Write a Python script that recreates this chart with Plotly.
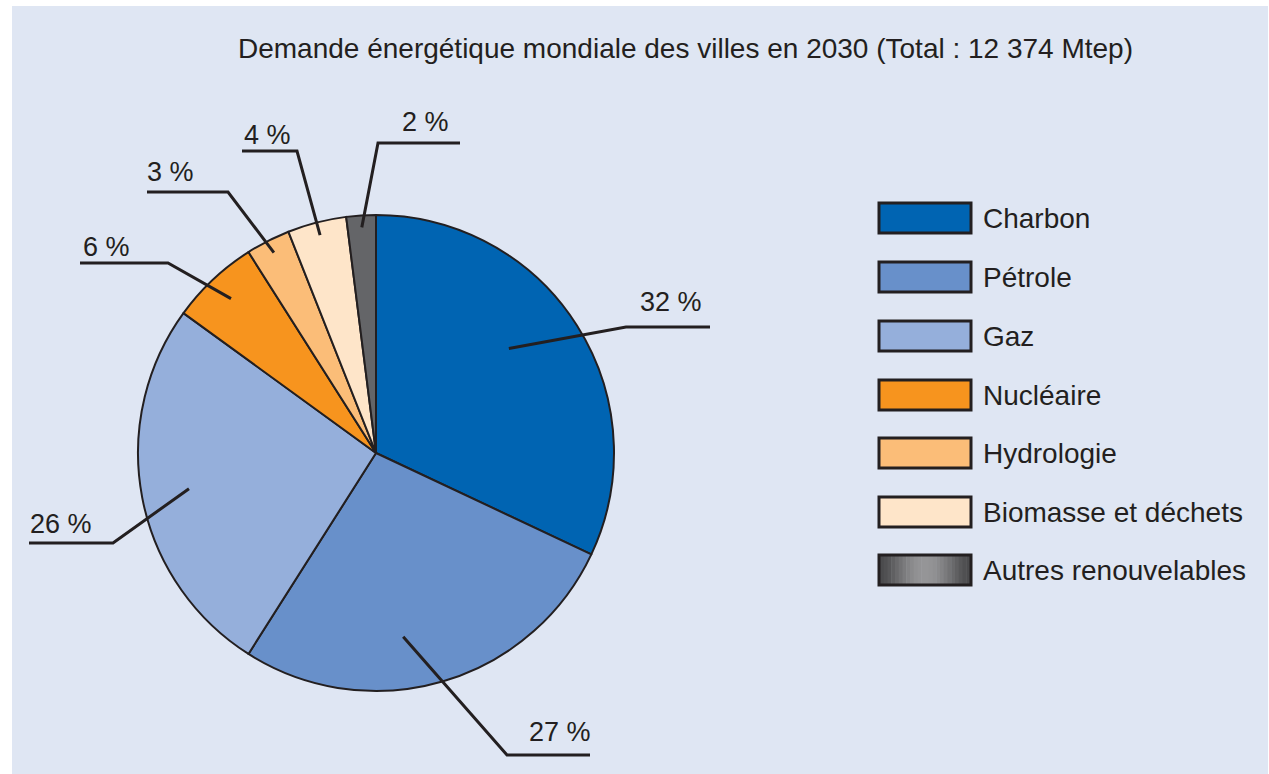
import math
import plotly.graph_objects as go

# ---- data ----
categories = ["Charbon", "Pétrole", "Gaz", "Nucléaire", "Hydrologie",
              "Biomasse et déchets", "Autres renouvelables"]
values = [32, 27, 26, 6, 3, 4, 2]
labels = ["32 %", "27 %", "26 %", "6 %", "3 %", "4 %", "2 %"]
title_text = "Demande énergétique mondiale des villes en 2030 (Total : 12 374 Mtep)"

# ---- style ----
colors = ["#0064b2", "#6890ca", "#95afdb", "#f7941e", "#fbbd78", "#fee5c9", "#646568"]
W, H = 1269, 774
BG = "#dfe6f3"
INK = "#231f20"
FONT = "Liberation Sans, Arial, sans-serif"
CX, CY, R = 376, 453, 238


def px(x):
    return x / W


def py(y):
    return 1 - y / H


fig = go.Figure()
fig.add_trace(go.Pie(
    labels=categories, values=values, sort=False, direction="clockwise",
    rotation=0, textinfo="none", hoverinfo="label+percent",
    marker=dict(colors=colors, line=dict(color=INK, width=2)),
    domain=dict(x=[px(CX - R), px(CX + R)], y=[py(CY + R), py(CY - R)]),
    showlegend=False,
))

shapes = [dict(type="rect", xref="paper", yref="paper", layer="below",
               x0=px(12), x1=px(1268), y0=0, y1=py(6),
               fillcolor=BG, line=dict(width=0))]
annotations = []

# leader line layout: position within slice, radial fraction of inner point,
# elbow (px), end x (px), label centre (px)
in_slice = [0.45, 0.58, 0.5, 0.5, 0.5, 0.5, 0.5]
radial = [0.71, 0.78, 0.80, 0.89, 0.945, 0.945, 0.95]
elbows = [(626, 327), (507, 755), (113, 543), (168, 263), (228, 192), (297, 151), (378, 143)]
ends = [710, 590, 29, 80, 147, 242, 460]
lab_pos = [(671, 302), (560, 732), (61, 524), (106, 247), (170, 172), (267, 135), (425, 122)]

total = sum(values)
cum = 0
for i, v in enumerate(values):
    ang = (cum + v * in_slice[i]) / total * 2 * math.pi
    cum += v
    rr = R * radial[i]
    x0 = CX + rr * math.sin(ang)
    y0 = CY - rr * math.cos(ang)
    ex, ey = elbows[i]
    path = f"M {px(x0)} {py(y0)} L {px(ex)} {py(ey)} L {px(ends[i])} {py(ey)}"
    shapes.append(dict(type="path", xref="paper", yref="paper", path=path,
                       line=dict(color=INK, width=3)))
    lx, ly = lab_pos[i]
    annotations.append(dict(xref="paper", yref="paper", x=px(lx), y=py(ly),
                            text=labels[i], showarrow=False,
                            xanchor="center", yanchor="middle",
                            font=dict(family=FONT, size=27, color=INK)))

# custom legend boxes
box_y = [218, 277, 336, 395, 453, 512, 570]
for i, c in enumerate(categories):
    yc = box_y[i]
    if i == len(categories) - 1:
        n = 24
        for k in range(n):
            t = (k + 0.5) / n
            w = math.sin(math.pi * t) ** 1.5
            g = int(74 + (150 - 74) * w)
            shapes.append(dict(type="rect", xref="paper", yref="paper",
                               x0=px(880 + 90 * k / n), x1=px(880 + 90 * (k + 1) / n + 0.5),
                               y0=py(yc + 14), y1=py(yc - 14),
                               fillcolor=f"rgb({g},{g},{g + 2})", line=dict(width=0)))
        shapes.append(dict(type="rect", xref="paper", yref="paper",
                           x0=px(879), x1=px(971), y0=py(yc + 15), y1=py(yc - 15),
                           fillcolor="rgba(0,0,0,0)", line=dict(color=INK, width=3)))
    else:
        shapes.append(dict(type="rect", xref="paper", yref="paper",
                           x0=px(879), x1=px(971), y0=py(yc + 15), y1=py(yc - 15),
                           fillcolor=colors[i], line=dict(color=INK, width=3)))
    annotations.append(dict(xref="paper", yref="paper", x=px(981), y=py(yc),
                            text=c, showarrow=False, xanchor="left", yanchor="middle",
                            font=dict(family=FONT, size=28, color=INK)))

annotations.append(dict(xref="paper", yref="paper", x=px(685), y=py(48),
                        text=title_text, showarrow=False, xanchor="center",
                        yanchor="middle", font=dict(family=FONT, size=28, color=INK)))

fig.update_layout(
    width=W, height=H, margin=dict(l=0, r=0, t=0, b=0),
    paper_bgcolor="white", plot_bgcolor="white",
    shapes=shapes, annotations=annotations,
)

fig.write_html("out.html", config={"displayModeBar": False},
               post_script="document.body.style.margin='0';document.body.style.overflow='hidden';")
